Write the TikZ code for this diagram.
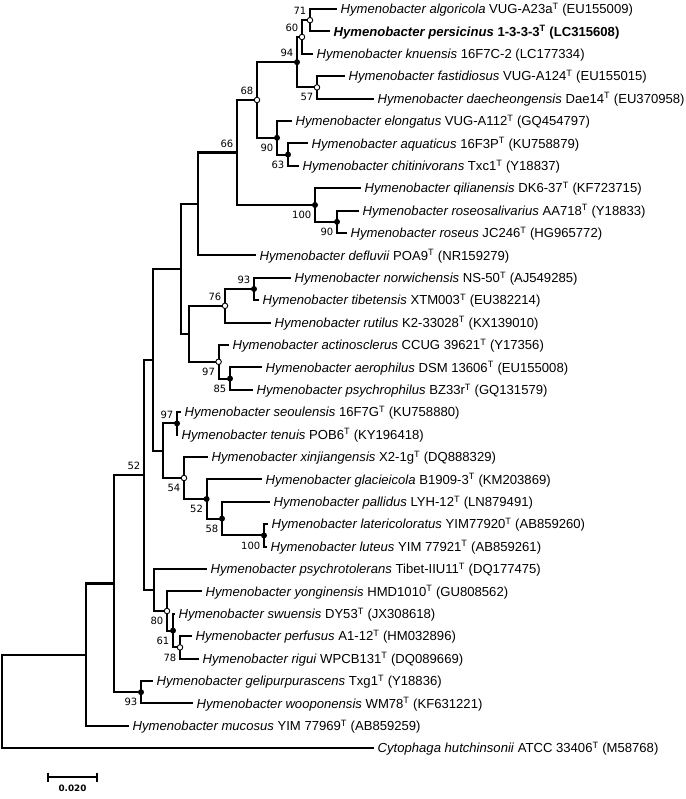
\documentclass[tikz,border=0pt]{standalone}
\usepackage{fontspec}
\usetikzlibrary{calc}
\setmainfont{Liberation Sans}
\newfontfamily\bsfont{DejaVu Sans}
\begin{document}
\begin{tikzpicture}[x=1pt,y=-1pt,
 br/.style={line width=2.1pt, line join=miter},
 leaf/.style={anchor=west, inner xsep=3.5pt, inner ysep=0pt, text height=9.4pt, text depth=0pt, font=\fontsize{13.1}{15}\selectfont},
 bsu/.style={anchor=south east, inner sep=0pt, xshift=-3.5pt, yshift=5pt, font=\bsfont\fontsize{10}{12}\selectfont},
 bsl/.style={anchor=north east, inner sep=0pt, xshift=-3.5pt, yshift=-6pt, font=\bsfont\fontsize{10}{12}\selectfont},
 opn/.style={circle, draw, fill=white, line width=0.9pt, inner sep=0pt, minimum size=5.5pt},
 fil/.style={circle, fill=black, inner sep=0pt, minimum size=6pt}]
\useasboundingbox (0,0) rectangle (685,799);
% internal nodes
\coordinate (root) at (2,701.4);
\coordinate (A) at (86,654.7);
\coordinate (B) at (114,583.5);
\coordinate (C) at (144,474.9);
\coordinate (D) at (153,359.8);
\coordinate (E) at (181,268.9);
\coordinate (Fd) at (198,204);
\coordinate (n66) at (237,152.5);
\coordinate (n68) at (257,100);
\coordinate (n94) at (297,62.2);
\coordinate (n60) at (302,37);
\coordinate (n71) at (310,20.2);
\coordinate (n57) at (317,87.4);
\coordinate (n90e) at (277,137.8);
\coordinate (n63) at (288,154.6);
\coordinate (n100q) at (315,205);
\coordinate (n90r) at (337,221.8);
\coordinate (Q) at (189,333.8);
\coordinate (n76) at (225,305.8);
\coordinate (n93) at (254,289);
\coordinate (n97a) at (218.6,361.8);
\coordinate (n85) at (230,378.6);
\coordinate (F) at (163,450.7);
\coordinate (n97s) at (177,423.4);
\coordinate (n54) at (184,478);
\coordinate (n52g) at (206.6,499);
\coordinate (n58) at (222,518.6);
\coordinate (n100l) at (264,535.4);
\coordinate (P) at (153.6,590);
\coordinate (n80) at (167,611);
\coordinate (n61) at (173,630.6);
\coordinate (n78) at (180,647.4);
\coordinate (g93) at (141,692.2);
% leaves
\node[leaf] (algo) at (337,9) {\textit{Hymenobacter algoricola} VUG-A23a\textsuperscript{T} (EU155009)};
\node[leaf] (pers) at (330,31.4) {\bfseries\textit{Hymenobacter persicinus} 1-3-3-3\textsuperscript{T} (LC315608)};
\node[leaf] (knue) at (313,53.8) {\textit{Hymenobacter knuensis} 16F7C-2 (LC177334)};
\node[leaf] (fast) at (345,76.2) {\textit{Hymenobacter fastidiosus} VUG-A124\textsuperscript{T} (EU155015)};
\node[leaf] (daec) at (374,98.6) {\textit{Hymenobacter daecheongensis} Dae14\textsuperscript{T} (EU370958)};
\node[leaf] (elon) at (292,121) {\textit{Hymenobacter elongatus} VUG-A112\textsuperscript{T} (GQ454797)};
\node[leaf] (aqua) at (308,143.4) {\textit{Hymenobacter aquaticus} 16F3P\textsuperscript{T} (KU758879)};
\node[leaf] (chit) at (299,165.8) {\textit{Hymenobacter chitinivorans} Txc1\textsuperscript{T} (Y18837)};
\node[leaf] (qili) at (361,188.2) {\textit{Hymenobacter qilianensis} DK6-37\textsuperscript{T} (KF723715)};
\node[leaf] (rsal) at (359,210.6) {\textit{Hymenobacter roseosalivarius} AA718\textsuperscript{T} (Y18833)};
\node[leaf] (rose) at (347,233) {\textit{Hymenobacter roseus} JC246\textsuperscript{T} (HG965772)};
\node[leaf] (defl) at (256,255.4) {\textit{Hymenobacter defluvii} POA9\textsuperscript{T} (NR159279)};
\node[leaf] (norw) at (291,277.8) {\textit{Hymenobacter norwichensis} NS-50\textsuperscript{T} (AJ549285)};
\node[leaf] (tibe) at (259,300.2) {\textit{Hymenobacter tibetensis} XTM003\textsuperscript{T} (EU382214)};
\node[leaf] (ruti) at (271,322.6) {\textit{Hymenobacter rutilus} K2-33028\textsuperscript{T} (KX139010)};
\node[leaf] (acti) at (229,345) {\textit{Hymenobacter actinosclerus} CCUG 39621\textsuperscript{T} (Y17356)};
\node[leaf] (aero) at (262,367.4) {\textit{Hymenobacter aerophilus} DSM 13606\textsuperscript{T} (EU155008)};
\node[leaf] (psyc) at (253,389.8) {\textit{Hymenobacter psychrophilus} BZ33r\textsuperscript{T} (GQ131579)};
\node[leaf] (seou) at (181,412.2) {\textit{Hymenobacter seoulensis} 16F7G\textsuperscript{T} (KU758880)};
\node[leaf] (tenu) at (178,434.6) {\textit{Hymenobacter tenuis} POB6\textsuperscript{T} (KY196418)};
\node[leaf] (xinj) at (208,457) {\textit{Hymenobacter xinjiangensis} X2-1g\textsuperscript{T} (DQ888329)};
\node[leaf] (glac) at (262,479.4) {\textit{Hymenobacter glacieicola} B1909-3\textsuperscript{T} (KM203869)};
\node[leaf] (pall) at (270,501.8) {\textit{Hymenobacter pallidus} LYH-12\textsuperscript{T} (LN879491)};
\node[leaf] (late) at (268,524.2) {\textit{Hymenobacter latericoloratus} YIM77920\textsuperscript{T} (AB859260)};
\node[leaf] (lute) at (267,546.6) {\textit{Hymenobacter luteus} YIM 77921\textsuperscript{T} (AB859261)};
\node[leaf] (ptol) at (207,569) {\textit{Hymenobacter psychrotolerans} Tibet-IIU11\textsuperscript{T} (DQ177475)};
\node[leaf] (yong) at (202,591.4) {\textit{Hymenobacter yonginensis} HMD1010\textsuperscript{T} (GU808562)};
\node[leaf] (swue) at (175,613.8) {\textit{Hymenobacter swuensis} DY53\textsuperscript{T} (JX308618)};
\node[leaf] (perf) at (192,636.2) {\textit{Hymenobacter perfusus} A1-12\textsuperscript{T} (HM032896)};
\node[leaf] (rigu) at (199,658.6) {\textit{Hymenobacter rigui} WPCB131\textsuperscript{T} (DQ089669)};
\node[leaf] (geli) at (153,681) {\textit{Hymenobacter gelipurpurascens} Txg1\textsuperscript{T} (Y18836)};
\node[leaf] (woop) at (193,703.4) {\textit{Hymenobacter wooponensis} WM78\textsuperscript{T} (KF631221)};
\node[leaf] (muco) at (129,725.8) {\textit{Hymenobacter mucosus} YIM 77969\textsuperscript{T} (AB859259)};
\node[leaf] (cyto) at (374,748.2) {\textit{Cytophaga hutchinsonii} ATCC 33406\textsuperscript{T} (M58768)};
% branches
\foreach \p/\c in {root/A,A/B,B/C,C/D,D/E,E/Fd,Fd/n66,n66/n68,n68/n94,n94/n60,n60/n71,n94/n57,n68/n90e,n90e/n63,n66/n100q,n100q/n90r,E/Q,Q/n76,n76/n93,Q/n97a,n97a/n85,D/F,F/n97s,F/n54,n54/n52g,n52g/n58,n58/n100l,C/P,P/n80,n80/n61,n61/n78,B/g93}
  \draw[br] (\p) |- (\c);
\foreach \p/\c in {root/cyto,A/muco,Fd/defl,n71/algo,n71/pers,n60/knue,n57/fast,n57/daec,n90e/elon,n63/aqua,n63/chit,n100q/qili,n90r/rsal,n90r/rose,n93/norw,n93/tibe,n76/ruti,n97a/acti,n85/aero,n85/psyc,n97s/seou,n97s/tenu,n54/xinj,n52g/glac,n58/pall,n100l/late,n100l/lute,P/ptol,n80/yong,n61/swue,n78/perf,n78/rigu,g93/geli,g93/woop}
  \draw[br] (\p) |- (\c.west);
% markers
\foreach \n in {n71,n60,n57,n68,n76,n97a,n54,n80,n78}
  \node[opn] at (\n) {};
\foreach \n in {n94,n90e,n63,n100q,n90r,n93,n85,n97s,n52g,n58,n100l,n61,g93}
  \node[fil] at (\n) {};
% bootstrap values
\node[bsu] at (n71) {71};
\node[bsu] at (n60) {60};
\node[bsu] at (n94) {94};
\node[bsl] at (n57) {57};
\node[bsu] at (n68) {68};
\node[bsl] at (n90e) {90};
\node[bsl] at (n63) {63};
\node[bsu] at (n66) {66};
\node[bsl] at (n100q) {100};
\node[bsl] at (n90r) {90};
\node[bsu] at (n93) {93};
\node[bsu] at (n76) {76};
\node[bsl] at (n97a) {97};
\node[bsl] at (n85) {85};
\node[bsu] at (n97s) {97};
\node[bsl] at (n54) {54};
\node[bsl] at (n52g) {52};
\node[bsl] at (n58) {58};
\node[bsl] at (n100l) {100};
\node[bsu] at (C) {52};
\node[bsl] at (n80) {80};
\node[bsl] at (n61) {61};
\node[bsl] at (n78) {78};
\node[bsl] at (g93) {93};
% scale bar
\coordinate (sb1) at (48,777);
\coordinate (sb2) at (97,777);
\draw[line width=2.1pt] (sb1) -- (sb2);
\draw[line width=1.6pt] ([yshift=4.5pt]sb1) -- ([yshift=-4.5pt]sb1);
\draw[line width=1.6pt] ([yshift=4.5pt]sb2) -- ([yshift=-4.5pt]sb2);
\node[font=\bsfont\bfseries\fontsize{8.8}{10}\selectfont, anchor=north, inner sep=0pt] (sbl) at ($(sb1)!0.5!(sb2)+(0,8)$) {0.020};
\end{tikzpicture}
\end{document}
